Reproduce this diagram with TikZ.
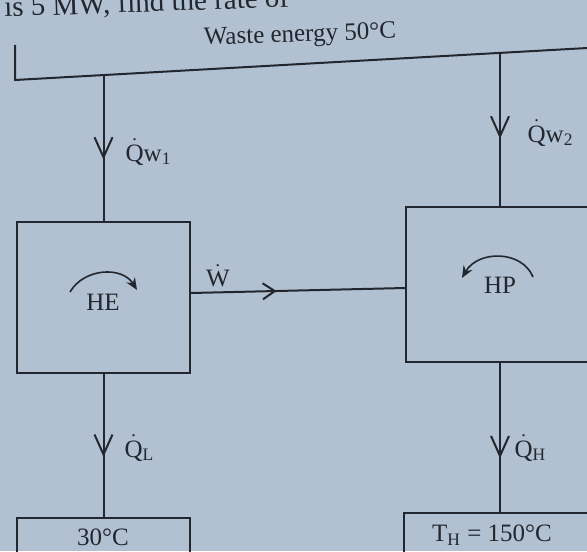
\documentclass[tikz,border=0pt]{standalone}
\usepackage{fontspec}
\setmainfont{Liberation Serif}
\usetikzlibrary{arrows.meta,decorations.markings,calc}
\definecolor{paper}{RGB}{178,193,210}
\definecolor{ink}{RGB}{34,38,46}
\newcommand\qd[1]{$\dot{\mbox{#1}}$}

\begin{document}
\begin{tikzpicture}[x=0.5pt,y=-0.5pt,line width=1pt,color=ink,
  font=\fontsize{12.5}{15}\selectfont,
  flow/.style={decoration={markings,mark=at position #1 with {\arrow{Straight Barb[length=10pt,width=9pt]}}},postaction={decorate}},
  work/.style={decoration={markings,mark=at position #1 with {\arrow{Straight Barb[length=6pt,width=8pt]}}},postaction={decorate}},
  box/.style={draw,inner sep=0pt},
  turn/.style={-{Stealth[length=6pt,width=5pt]},line width=0.8pt}]
  \useasboundingbox (0,0) rectangle (587,551);
  \fill[paper] (0,0) rectangle (587,551);
  \clip (0,0) rectangle (587,551);
  % boxes
  \node[box,minimum width=86.5pt,minimum height=75.5pt] (he) at (103.5,297.5) {};
  \node[box,minimum width=97pt,minimum height=77.5pt] (hp) at (503,284.5) {};
  \node[box,minimum width=86.5pt,minimum height=31pt] (cold) at (103.5,549) {};
  \node[box,minimum width=98pt,minimum height=33.5pt] (hot) at (502,546.5) {};
  % waste energy line
  \coordinate (w0) at (15,45); \coordinate (w1) at (15,80); \coordinate (w2) at (600,47.3);
  \coordinate (tap1) at (103.5,75); \coordinate (tap2) at (500,53);
  \draw (w0) -- (w1) -- (w2);
  \draw[flow=0.58] (tap1) -- (he.north);
  \draw[flow=0.56] (tap2) -- (tap2 |- hp.north);
  \draw[flow=0.58] (he.south) -- (cold.north);
  \draw[flow=0.64] (hp.south -| tap2) -- (hot.north -| tap2);
  \draw[work=0.4] ($(he.east)+(0,-4.5)$) -- ($(hp.west)+(0,3.5)$);
  % cycle senses
  \draw[turn] (70,292) .. controls (84,268) and (122,266) .. (137,290);
  \draw[turn] (533,277) .. controls (522,250) and (478,250) .. (462,278);
  % labels
  \node[rotate=2,anchor=base west,font=\fontsize{14.5}{17}\selectfont] at (-3,17) {is 5 MW, find the rate of};
  \node[rotate=2] (waste) at (300,36) {Waste energy 50°C};
  \node (helab) at (103,302) {HE};
  \node (hplab) at (500,285) {HP};
  \node (wlab) at (218,276) {\qd{W}};
  \node[anchor=west] (qw1) at (118,152) {\qd{Q}w\textsubscript{1}};
  \node[anchor=west] (qw2) at (520,133) {\qd{Q}w\textsubscript{2}};
  \node[anchor=west] (ql) at (117,448) {\qd{Q}\textsubscript{L}};
  \node[anchor=west] (qh) at (507,448) {\qd{Q}\textsubscript{H}};
  \node (tc) at (103,537) {30°C};
  \node (th) at (492,535) {T\textsubscript{H} = 150°C};
\end{tikzpicture}
\end{document}
